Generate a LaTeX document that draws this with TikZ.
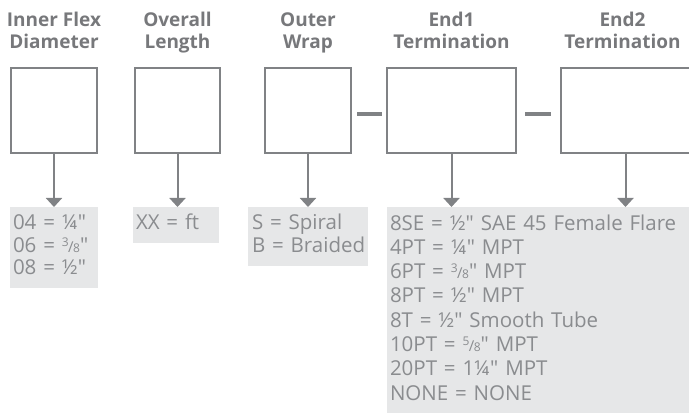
\documentclass[tikz,border=0pt]{standalone}
\usepackage{fontspec}
\setmainfont{Open Sans}[Ligatures=TeXOff]
\usepackage{tikz}
\usetikzlibrary{positioning}
\usetikzlibrary{arrows.meta}
\definecolor{framegray}{HTML}{808285}
\definecolor{headgray}{HTML}{77787B}
\definecolor{codefill}{HTML}{E6E7E8}
\definecolor{codegray}{HTML}{8A8C8F}
\newcommand{\smallfrac}[2]{\raisebox{6pt}{\fontsize{12}{12}\selectfont#1}\kern-0.5pt{\fontsize{15}{15}\selectfont/}\kern-0.5pt{\fontsize{12}{12}\selectfont#2}}

\begin{document}
\begin{tikzpicture}[x=1pt, y=-1pt,
	field/.style={draw=framegray, line width=2pt, minimum height=85pt, inner sep=0pt},
	heading/.style={font=\bfseries\fontsize{19}{22}\selectfont, text=headgray, align=center, inner sep=0pt},
	codes/.style={fill=codefill, text=codegray, font=\fontsize{20.5}{22.5}\selectfont, align=left, inner xsep=3pt, inner ysep=7pt, outer sep=0pt},
	pointer/.style={draw=framegray, line width=2pt, -{Triangle[width=16pt, length=9pt]}},
	joint/.style={draw=framegray, line width=4pt}]
	\useasboundingbox (0,0) rectangle (689,414);
	\node [field, minimum width=86pt, anchor=north west] (dia) at (10,67) {};
	\node [field, minimum width=85pt, right=36pt of dia] (len) {};
	\node [field, minimum width=86pt, right=43pt of len] (wrap) {};
	\node [field, minimum width=129pt, right=34pt of wrap] (end1) {};
	\node [field, minimum width=129pt, right=43pt of end1] (end2) {};

	\node [heading, above=11.4pt of dia] (dia-h) {\strut Inner Flex\\Diameter\strut};
	\node [heading, above=11.4pt of len] (len-h) {\strut Overall\\Length\strut};
	\node [heading, above=11.4pt of wrap] (wrap-h) {\strut Outer\\Wrap\strut};
	\node [heading, above=11.4pt of end1] (end1-h) {\strut End1\\Termination\strut};
	\node [heading, above=11.4pt of end2, xshift=-3pt] (end2-h) {\strut End2\\Termination\strut};

	\node [codes, text width=82pt, below right=53pt and 0pt of dia.south west] (dia-c) {\strut 04 = ¼"\\06 = \smallfrac38"\\08 = ½"\strut};
	\node [codes, text width=80pt, below right=53pt and -1pt of len.south west] (len-c) {\strut XX = ft};
	\node [codes, inner xsep=4pt, text width=112pt, below=53pt of wrap] (wrap-c) {\strut S~=~Spiral\\B~=~Braided\strut};
	\node [codes, font=\fontsize{20.5}{24.3}\selectfont, inner ysep=6pt, text width=300pt, below right=53pt and 1pt of end1.south west] (end1-c) {\strut 8SE = ½" SAE 45 Female Flare\\4PT = ¼" MPT\\6PT = \smallfrac38" MPT\\8PT = ½" MPT\\8T = ½" Smooth Tube\\10PT = \smallfrac58" MPT\\20PT = 1¼" MPT\\NONE = NONE\strut};

	\draw [pointer] (dia.south) -- (dia.south |- dia-c.north);
	\draw [pointer] (len.south) -- (len.south |- len-c.north);
	\draw [pointer] (wrap.south) -- (wrap.south |- wrap-c.north);
	\draw [pointer] (end1.south) -- (end1.south |- end1-c.north);
	\draw [pointer] (end2.south) -- (end2.south |- end1-c.north);

	\draw [joint] ([xshift=5pt, yshift=-3.5pt]wrap.east) -- ([xshift=-4pt, yshift=-3.5pt]end1.west);
	\draw [joint] ([xshift=8pt, yshift=-3.5pt]end1.east) -- ([xshift=-9pt, yshift=-3.5pt]end2.west);
\end{tikzpicture}
\end{document}
